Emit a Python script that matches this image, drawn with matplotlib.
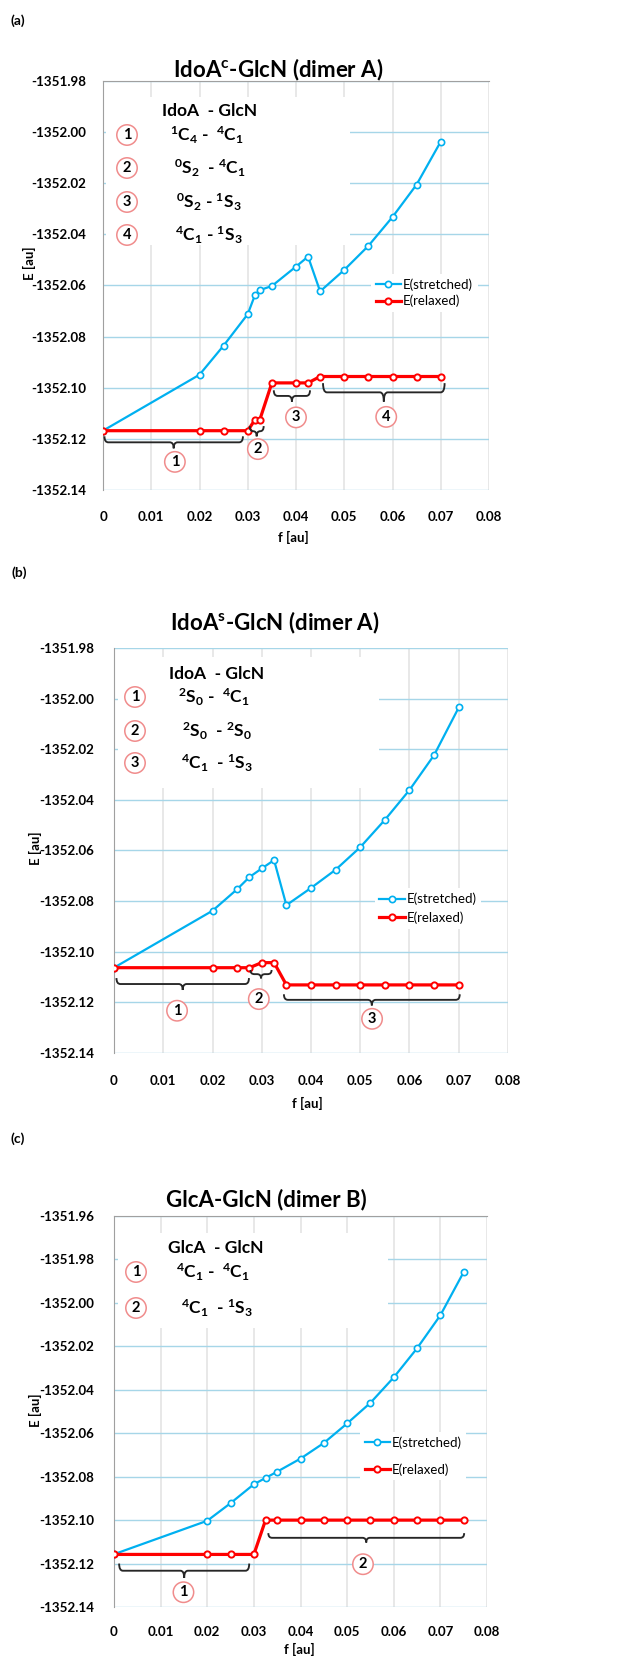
import numpy as np
import matplotlib
matplotlib.use('Agg')
import matplotlib.pyplot as plt
from matplotlib.path import Path
from matplotlib.patches import PathPatch, Rectangle

plt.rcParams['font.family'] = ['Lato', 'DejaVu Sans']
plt.rcParams['mathtext.fontset'] = 'custom'
plt.rcParams['mathtext.rm'] = 'Lato:bold'
plt.rcParams['mathtext.it'] = 'Lato:bold'
plt.rcParams['mathtext.bf'] = 'Lato:bold'

W, H = 623, 1657

# ---- (a) IdoA(c)-GlcN, dimer A ----
f_a = [0, 0.02, 0.025, 0.03, 0.0315, 0.0325, 0.035, 0.04, 0.0425, 0.045, 0.05, 0.055, 0.06, 0.065, 0.07]
E_a_str = [-1352.1168, -1352.0949, -1352.0835, -1352.0712, -1352.0637, -1352.0618, -1352.0602, -1352.0526,
           -1352.0487, -1352.0623, -1352.0539, -1352.0445, -1352.0332, -1352.0205, -1352.0037]
E_a_rel = [-1352.1168, -1352.1168, -1352.1168, -1352.1168, -1352.1125, -1352.1125, -1352.0981, -1352.0981,
           -1352.0981, -1352.0956, -1352.0956, -1352.0956, -1352.0956, -1352.0956, -1352.0956]
groups_a = [(0.0003, 0.029), (0.0304, 0.0333), (0.0354, 0.0429), (0.0456, 0.0708)]
tips_a = [-1352.1190, -1352.1150, -1352.1010, -1352.0982]
points_a = [-1352.1237, -1352.1190, -1352.1054, -1352.1054]
circ_a = [(0.0149, -1352.1290), (0.0321, -1352.1240), (0.0400, -1352.1116), (0.0587, -1352.1114)]
rows_a = [r'$^{1}$C$_{4}$ -  $^{4}$C$_{1}$', r'$^{0}$S$_{2}$  - $^{4}$C$_{1}$',
          r'$^{0}$S$_{2}$ - $^{1}$S$_{3}$', r'$^{4}$C$_{1}$ - $^{1}$S$_{3}$']

# ---- (b) IdoA(s)-GlcN, dimer A ----
f_b = [0, 0.02, 0.025, 0.0275, 0.03, 0.0325, 0.035, 0.04, 0.045, 0.05, 0.055, 0.06, 0.065, 0.07]
E_b_str = [-1352.1063, -1352.0838, -1352.0753, -1352.0705, -1352.0671, -1352.0638, -1352.0816, -1352.0748,
           -1352.0676, -1352.0587, -1352.0479, -1352.0361, -1352.0223, -1352.0035]
E_b_rel = [-1352.1063, -1352.1063, -1352.1063, -1352.1063, -1352.1043, -1352.1043, -1352.1131, -1352.1131,
           -1352.1131, -1352.1131, -1352.1131, -1352.1131, -1352.1131, -1352.1131]
groups_b = [(0.0005, 0.0274), (0.0277, 0.0320), (0.0345, 0.0702)]
tips_b = [-1352.1104, -1352.1072, -1352.1168]
points_b = [-1352.1151, -1352.1105, -1352.1212]
circ_b = [(0.0128, -1352.1233), (0.0294, -1352.1187), (0.0524, -1352.1265)]
rows_b = [r'$^{2}$S$_{0}$ -  $^{4}$C$_{1}$', r'$^{2}$S$_{0}$  - $^{2}$S$_{0}$', r'$^{4}$C$_{1}$  - $^{1}$S$_{3}$']

# ---- (c) GlcA-GlcN, dimer B ----
f_c = [0, 0.02, 0.025, 0.03, 0.0325, 0.035, 0.04, 0.045, 0.05, 0.055, 0.06, 0.065, 0.07, 0.075]
E_c_str = [-1352.1157, -1352.1003, -1352.0922, -1352.0835, -1352.0806, -1352.0777, -1352.0717, -1352.0645,
           -1352.0555, -1352.0460, -1352.0343, -1352.0209, -1352.0057, -1351.9858]
E_c_rel = [-1352.1158, -1352.1158, -1352.1158, -1352.1158, -1352.1000, -1352.1000, -1352.1000, -1352.1000,
           -1352.1000, -1352.1000, -1352.1000, -1352.1000, -1352.1000, -1352.1000]
groups_c = [(0.0011, 0.0290), (0.0331, 0.0751)]
tips_c = [-1352.1200, -1352.1060]
points_c = [-1352.1266, -1352.1103]
circ_c = [(0.0149, -1352.1332), (0.0534, -1352.1203)]
rows_c = [r'$^{4}$C$_{1}$ -  $^{4}$C$_{1}$', r'$^{4}$C$_{1}$  - $^{1}$S$_{3}$']

xticks = [0, 0.01, 0.02, 0.03, 0.04, 0.05, 0.06, 0.07, 0.08]
xticklabels = ['0', '0.01', '0.02', '0.03', '0.04', '0.05', '0.06', '0.07', '0.08']

BLUE = '#00B0F0'
RED = '#FF0000'
CIRC_EC = '#F08C8C'


def fx(px):
    return px / W


def fy(py):
    return 1 - py / H


def circled(fig_or_ax, x, y, s, transform):
    fig_or_ax.text(x, y, s, transform=transform, ha='center', va='center', fontsize=10.5,
                   fontweight='bold', zorder=6,
                   bbox=dict(boxstyle='circle,pad=0.22', fc='white', ec=CIRC_EC, lw=1.1))


def brace(ax, x0, x1, ytip, ypt, dx=0.0008):
    ym = (ytip + ypt) / 2
    xc = (x0 + x1) / 2
    dx = min(dx, (x1 - x0) / 4)
    verts = [(x0, ytip), (x0, ym), (x0 + dx, ym), (xc - dx, ym), (xc, ym), (xc, ypt),
             (xc, ym), (xc + dx, ym), (x1 - dx, ym), (x1, ym), (x1, ytip)]
    codes = [Path.MOVETO, Path.CURVE3, Path.CURVE3, Path.LINETO, Path.CURVE3, Path.CURVE3,
             Path.CURVE3, Path.CURVE3, Path.LINETO, Path.CURVE3, Path.CURVE3]
    ax.add_patch(PathPatch(Path(verts, codes), fc='none', ec='#262626', lw=1.35, zorder=4))


def panel(rect, ylim, yticks, f, e_str, e_rel, groups, tips, points, circs, top_spine,
          box, leg_xy, leg_space, ypad, xpad):
    ax = fig.add_axes(rect)
    ax.set_xlim(0, 0.08)
    ax.set_ylim(*ylim)
    ax.set_xticks(xticks)
    ax.set_xticklabels(xticklabels)
    ax.set_yticks(yticks)
    ax.set_yticklabels(['%.2f' % v for v in yticks])
    for lab in ax.get_xticklabels() + ax.get_yticklabels():
        lab.set_fontweight('bold')
        lab.set_fontsize(9.6)
    ax.tick_params(length=0)
    ax.tick_params(axis='y', pad=ypad)
    ax.tick_params(axis='x', pad=xpad)
    ax.set_axisbelow(True)
    ax.grid(axis='y', color='#A6D6E8', lw=1.0, zorder=0)
    ax.grid(axis='x', color='#E4E4E4', lw=1.2, zorder=0)
    for side in ['right', 'bottom']:
        ax.spines[side].set_visible(False)
    ax.spines['left'].set_color('#A0A0A0')
    ax.spines['top'].set_color('#A0A0A0')
    ax.spines['top'].set_visible(top_spine)

    # white block behind the conformation list
    ax.add_patch(Rectangle((box[0], box[1]), box[2], box[3], transform=ax.transAxes,
                           fc='white', ec='none', zorder=1))

    ax.plot(f, e_str, color=BLUE, lw=1.6, marker='o', ms=4.5, mfc='white', mec=BLUE, mew=1.2,
            label='E(stretched)', zorder=3)
    ax.plot(f[:len(e_rel)], e_rel, color=RED, lw=2.3, marker='o', ms=4.5, mfc='white', mec=RED,
            mew=1.4, label='E(relaxed)', zorder=3)

    for (x0, x1), yt, yp in zip(groups, tips, points):
        brace(ax, x0, x1, yt, yp)
    for i, (cx, cy) in enumerate(circs):
        circled(ax, cx, cy, str(i + 1), ax.transData)

    leg = ax.legend(loc='center left', bbox_to_anchor=leg_xy, frameon=True, fontsize=9.5,
                    handlelength=1.9, handletextpad=0.15, labelspacing=leg_space,
                    borderpad=0.35, borderaxespad=0, fancybox=False)
    leg.get_frame().set_edgecolor('none')
    leg.get_frame().set_facecolor('white')
    leg.get_frame().set_alpha(1)
    leg.set_zorder(5)
    return ax


def conf_list(header, head_xy, rows, circ_x, row_ys, row_xs):
    fig.text(fx(head_xy[0]), fy(head_xy[1]), header, ha='left', va='center', fontsize=12.5,
             fontweight='bold', zorder=7)
    for i, (s, y, x) in enumerate(zip(rows, row_ys, row_xs)):
        circled(fig, fx(circ_x), fy(y), str(i + 1), fig.transFigure)
        fig.text(fx(x), fy(y), s, ha='center', va='center', fontsize=12.5, fontweight='bold', zorder=7)


fig = plt.figure(figsize=(W / 100, H / 100), dpi=100)

yt_ab = [-1352.14, -1352.12, -1352.10, -1352.08, -1352.06, -1352.04, -1352.02, -1352.00, -1351.98]
yt_c = [-1352.14, -1352.12, -1352.10, -1352.08, -1352.06, -1352.04, -1352.02, -1352.00, -1351.98, -1351.96]

# (a)
panel([fx(103), fy(490), 386 / W, 409 / H], (-1352.14, -1351.98), yt_ab, f_a, E_a_str, E_a_rel,
      groups_a, tips_a, points_a, circ_a, True, (0.008, 0.60, 0.632, 0.36), (0.695, 0.482), 0.3, 12, 15)
# (b)
panel([fx(114), fy(1053), 394 / W, 405 / H], (-1352.14, -1351.98), yt_ab, f_b, E_b_str, E_b_rel,
      groups_b, tips_b, points_b, circ_b, False, (0.01, 0.655, 0.663, 0.323), (0.662, 0.357), 0.45, 14, 16)
# (c)
panel([fx(114), fy(1607), 373 / W, 391 / H], (-1352.14, -1351.96), yt_c, f_c, E_c_str, E_c_rel,
      groups_c, tips_c, points_c, circ_c, True, (0.01, 0.714, 0.725, 0.243), (0.66, 0.386), 1.1, 14, 14)

conf_list('IdoA  - GlcN', (162, 111), rows_a, 127, [135, 168, 202, 235], [207, 210, 209, 209])
conf_list('IdoA  - GlcN', (169, 674), rows_b, 135, [697, 731, 763], [214, 217, 217])
conf_list('GlcA  - GlcN', (168, 1248), rows_c, 136, [1272, 1308], [213, 217])

# titles, axis labels and panel tags
for tag, tx, ty in [('(a)', 18, 21), ('(b)', 19, 573), ('(c)', 18, 1139)]:
    fig.text(fx(tx), fy(ty), tag, ha='center', va='center', fontsize=10, fontweight='bold')
for title, tx, ty in [(r'IdoA$^{c}$-GlcN (dimer A)', 278, 70),
                      (r'IdoA$^{s}$-GlcN (dimer A)', 275, 623),
                      ('GlcA-GlcN (dimer B)', 266, 1200)]:
    fig.text(fx(tx), fy(ty), title, ha='center', va='center', fontsize=16, fontweight='bold')
for ly, lx in [(263, 29), (848, 35), (1410, 35)]:
    fig.text(fx(lx), fy(ly), 'E [au]', ha='center', va='center', rotation=90, fontsize=9.5,
             fontweight='bold')
for lx, ly in [(293, 537), (307, 1103), (299, 1649)]:
    fig.text(fx(lx), fy(ly), 'f [au]', ha='center', va='center', fontsize=9.5, fontweight='bold')

fig.savefig('out.png', dpi=100)
